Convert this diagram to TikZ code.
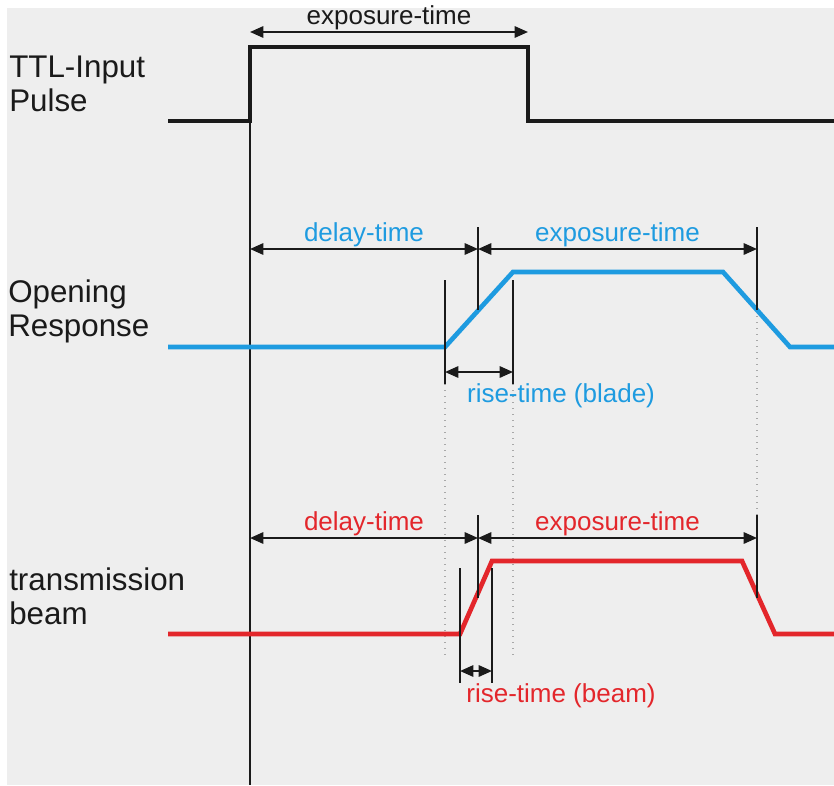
\documentclass[tikz,border=0pt]{standalone}
\usepackage{fontspec}
\setmainfont{Liberation Sans}
\usepackage{xcolor}
\definecolor{shutterBg}{HTML}{EEEEEE}
\definecolor{shutterBlack}{HTML}{1A1A1A}
\definecolor{shutterBlue}{HTML}{1E9BE0}
\definecolor{shutterRed}{HTML}{E3262B}
\definecolor{shutterDot}{HTML}{A8A8A8}
\usetikzlibrary{arrows.meta,positioning,calc}
\tikzset{
  siglabel/.style={
    anchor=north west,inner sep=0pt,align=left,
    font=\fontsize{23.5}{25.5}\selectfont,text=shutterBlack
  },
  dimtext/.style={inner sep=0.5pt,font=\fontsize{19.5}{23}\selectfont},
  dimarr/.style={{Triangle[length=10pt,width=8.5pt]}-{Triangle[length=10pt,width=8.5pt]},
    line width=1.5pt,color=shutterBlack},
  marker/.style={line width=1.5pt,color=shutterBlack},
  guide/.style={line width=1pt,color=shutterDot,dash pattern=on 1pt off 3.5pt},
  ttlsig/.style={line width=3pt,color=shutterBlack,line join=miter},
  bladesig/.style={line width=3.5pt,color=shutterBlue},
  beamsig/.style={line width=3.5pt,color=shutterRed},
}

\begin{document}
\begin{tikzpicture}[x=0.75pt,y=-0.75pt]
\useasboundingbox (0,0) rectangle (834,785);
\fill[white] (0,0) rectangle (834,785);
\fill[shutterBg] (7,8) rectangle (834,785);

% signal names
\node[siglabel] (ttlname)  at (9,56)  {TTL-Input\\Pulse};
\node[siglabel] (openname) at (8,280) {Opening\\Response};
\node[siglabel] (beamname) at (9,568) {transmission\\beam};

% TTL pulse
\coordinate (t0) at (168,121);
\coordinate (t1) at (250,121);
\coordinate (t2) at (250,47);
\coordinate (t3) at (528,47);
\coordinate (t4) at (528,121);
\coordinate (t5) at (834,121);
\coordinate (tb) at (250,785);
\coordinate (ea) at (250,32);
\coordinate (eb) at (528,32);
\draw[marker] (t2) -- (tb);
\draw[ttlsig] (t0) -- (t1) -- (t2) -- (t3) -- (t4) -- (t5);
\draw[dimarr] (ea) -- node[above,dimtext,text=shutterBlack] (ttlexp) {exposure-time} (eb);

% opening response (blade)
\coordinate (b0) at (168,347);
\coordinate (b1) at (445,347);
\coordinate (b2) at (513,272);
\coordinate (b3) at (723,272);
\coordinate (b4) at (790,347);
\coordinate (b5) at (834,347);
\coordinate (bd0) at (250,249);
\coordinate (bd1) at (478,249);
\coordinate (bd2) at (757,249);
\coordinate (bm1t) at (478,227);
\coordinate (bm1b) at (478,310);
\coordinate (bm2t) at (757,227);
\coordinate (bm2b) at (757,310);
\coordinate (br1t) at (445,280);
\coordinate (br1b) at (445,384);
\coordinate (br2t) at (513,280);
\coordinate (br2b) at (513,384);
\coordinate (bra) at (445,372);
\coordinate (brb) at (513,372);
\draw[guide] (br1b) -- (445,658);
\draw[guide] (br2b) -- (513,658);
\draw[guide] (bm2b) -- (757,515);
\draw[bladesig] (b0) -- (b1) -- (b2) -- (b3) -- (b4) -- (b5);
\draw[marker] (bm1t) -- (bm1b);
\draw[marker] (bm2t) -- (bm2b);
\draw[marker] (br1t) -- (br1b);
\draw[marker] (br2t) -- (br2b);
\draw[dimarr] (bd0) -- node[above,dimtext,text=shutterBlue] (bdelay) {delay-time} (bd1);
\draw[dimarr] (bd1) -- node[above,dimtext,text=shutterBlue] (bexp) {exposure-time} (bd2);
\draw[dimarr] (bra) -- (brb);
\node[dimtext,text=shutterBlue] (brise) at (561,396) {rise-time (blade)};

% transmission beam
\coordinate (r0) at (168,634);
\coordinate (r1) at (460,634);
\coordinate (r2) at (492,561);
\coordinate (r3) at (742,561);
\coordinate (r4) at (775,634);
\coordinate (r5) at (834,634);
\coordinate (rd0) at (250,538);
\coordinate (rd1) at (478,538);
\coordinate (rd2) at (757,538);
\coordinate (rm1t) at (478,515);
\coordinate (rm1b) at (478,598);
\coordinate (rm2t) at (757,515);
\coordinate (rm2b) at (757,598);
\coordinate (rr1t) at (460,568);
\coordinate (rr1b) at (460,683);
\coordinate (rr2t) at (492,568);
\coordinate (rr2b) at (492,683);
\coordinate (rra) at (460,671);
\coordinate (rrb) at (492,671);
\draw[beamsig] (r0) -- (r1) -- (r2) -- (r3) -- (r4) -- (r5);
\draw[marker] (rm1t) -- (rm1b);
\draw[marker] (rm2t) -- (rm2b);
\draw[marker] (rr1t) -- (rr1b);
\draw[marker] (rr2t) -- (rr2b);
\draw[dimarr] (rd0) -- node[above,dimtext,text=shutterRed] (rdelay) {delay-time} (rd1);
\draw[dimarr] (rd1) -- node[above,dimtext,text=shutterRed] (rexp) {exposure-time} (rd2);
\draw[dimarr] (rra) -- (rrb);
\node[dimtext,text=shutterRed] (rrise) at (561,696) {rise-time (beam)};

\end{tikzpicture}
\end{document}
